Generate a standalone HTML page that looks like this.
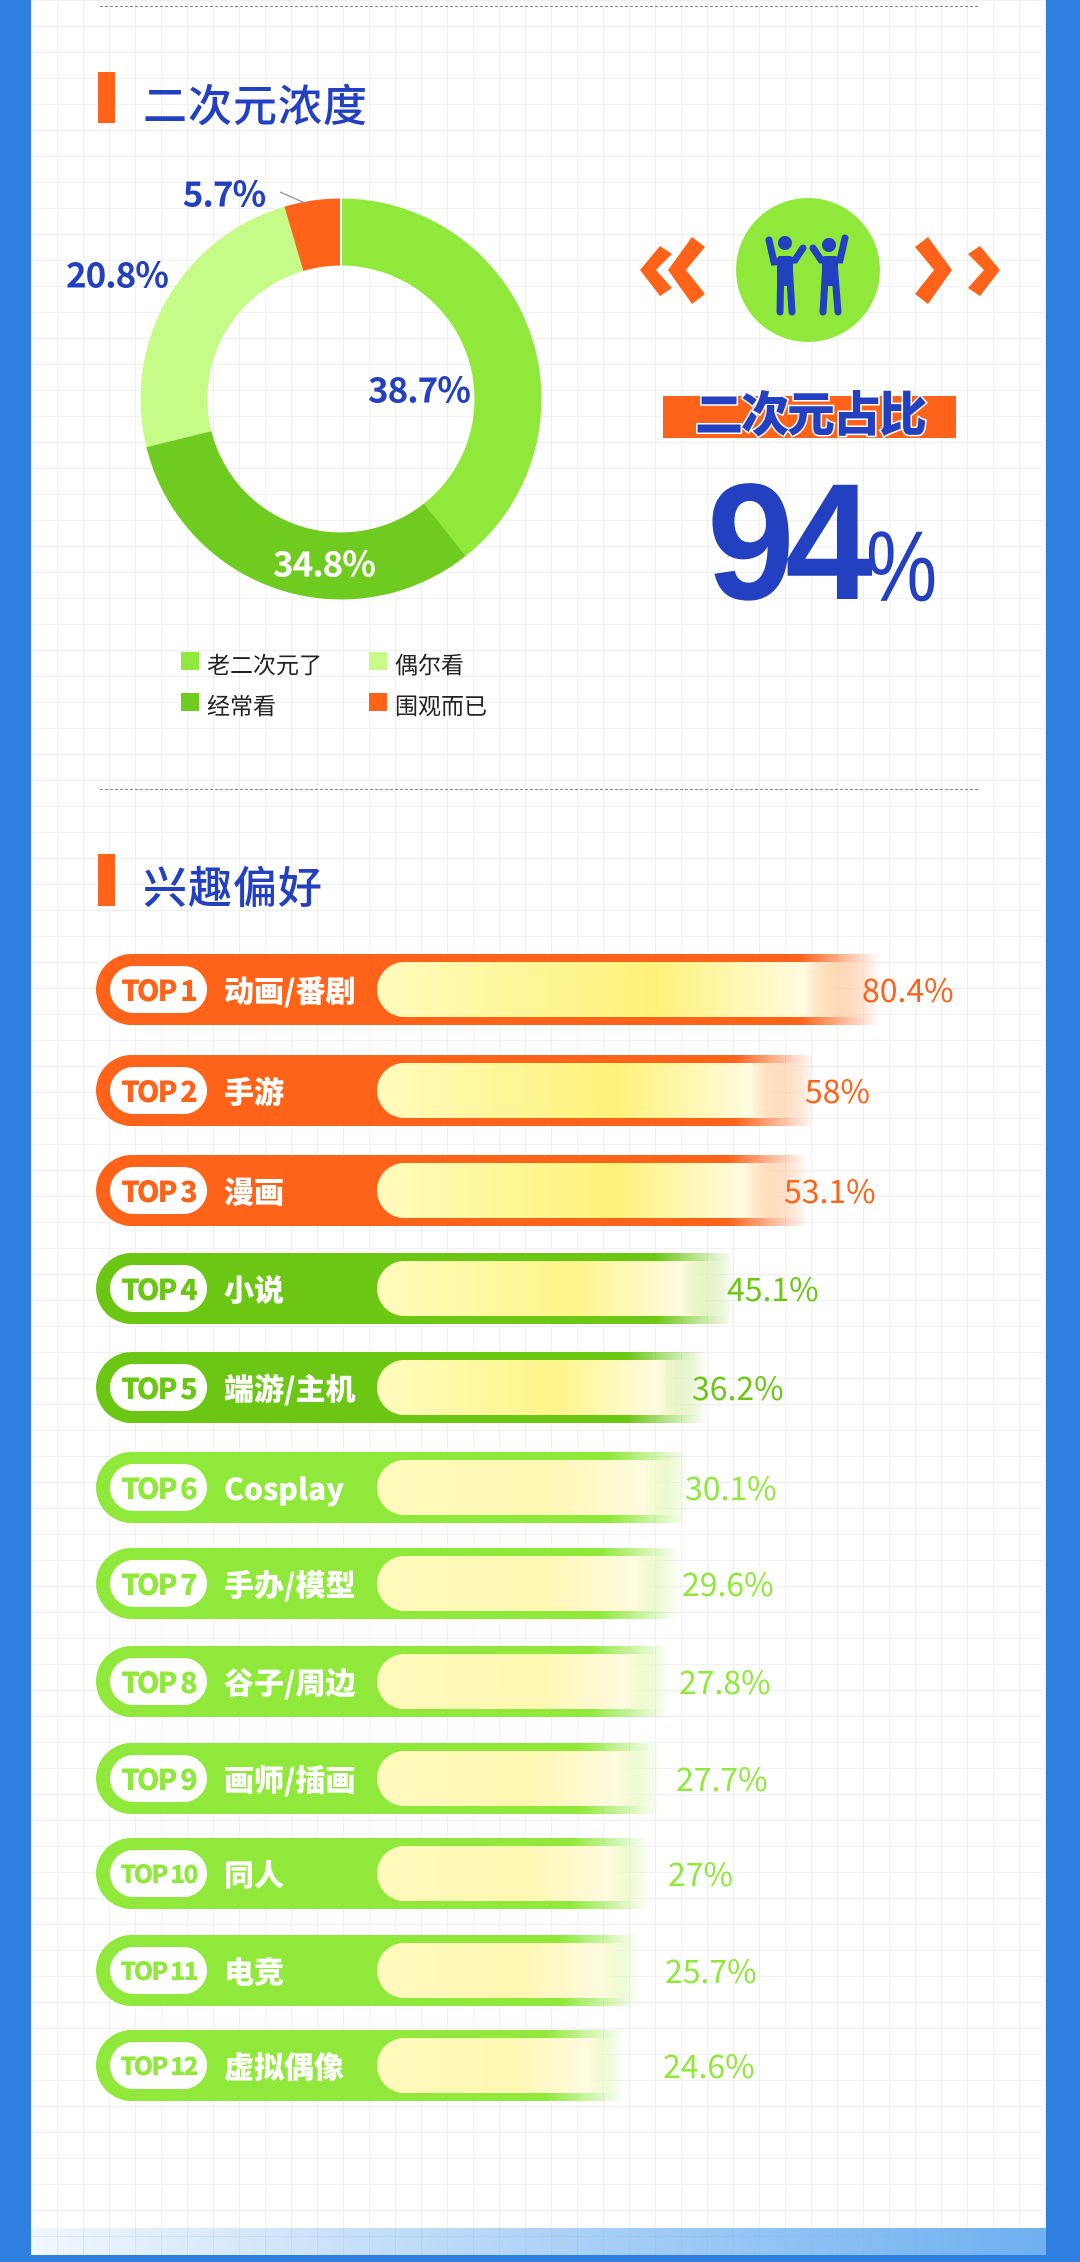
<!DOCTYPE html>
<html><head><meta charset="utf-8"><style>
*{margin:0;padding:0;box-sizing:border-box}
body{width:1080px;height:2262px;position:relative;overflow:hidden;background:#2f7fe0;font-family:"Liberation Sans","Noto Sans CJK SC",sans-serif}
.panel{position:absolute;left:31px;top:0;width:1015px;height:2255px;background-color:#fff;
background-image:linear-gradient(#eef0f5 1px,transparent 1px),linear-gradient(90deg,#eef0f5 1px,transparent 1px);background-size:26px 26px}
.dash{position:absolute;left:100px;width:878px;border-top:1.5px dashed #888}
.tbar{position:absolute;left:98px;width:17px;background:#ff6319}
.title{position:absolute;left:143px;font-size:44px;color:#2340c0;font-family:"Noto Sans CJK SC",sans-serif;font-weight:500;letter-spacing:1px}
.lab{position:absolute;font-family:"Noto Sans CJK SC",sans-serif;font-weight:700;font-size:35px;color:#2340c0;transform:translate(-50%,-50%);letter-spacing:-1px}
.lg{position:absolute;font-family:"Noto Sans CJK SC",sans-serif;font-size:23px;color:#222}
.lg i{position:absolute;left:-26px;top:6px;width:18px;height:18px}
.row{position:absolute;left:96px;height:71px}
.bar{position:absolute;left:0;top:0;height:71px;border-radius:36px 0 0 36px}
.yel{position:absolute;left:281px;top:8px;height:55px;border-radius:28px 0 0 28px}
.badge{position:absolute;left:14px;top:12px;width:97px;height:47px;background:#fff;border-radius:24px;font-family:"Noto Sans CJK SC",sans-serif;font-weight:900;font-size:29px;line-height:47px;text-align:center;letter-spacing:-2px}
.nm{position:absolute;left:128px;top:0;line-height:71px;font-family:"Noto Sans CJK SC",sans-serif;font-weight:900;font-size:30px;color:#fff}
.pc{position:absolute;top:0;line-height:71px;font-family:"Noto Sans CJK SC",sans-serif;font-size:32px}
</style></head><body>
<div class="panel"></div>
<div class="dash" style="top:6px"></div>
<div class="tbar" style="top:72px;height:51px"></div>
<div class="title" style="top:70px">二次元浓度</div>

<svg style="position:absolute;left:0;top:0" width="1080" height="760">
<g transform="translate(341,399) rotate(-90)">
<circle r="167" fill="none" stroke="#90e83a" stroke-width="67" stroke-dasharray="412.4 1049.3"/>
<circle r="167" fill="none" stroke="#6fcb1f" stroke-width="67" stroke-dasharray="333.7 1049.3" stroke-dashoffset="-412.4"/>
<circle r="167" fill="none" stroke="#c6fb88" stroke-width="67" stroke-dasharray="255 1049.3" stroke-dashoffset="-746.1"/>
<circle r="167" fill="none" stroke="#ff6319" stroke-width="67" stroke-dasharray="48.2 1049.3" stroke-dashoffset="-1001.1"/>
</g>
<line x1="341" y1="197" x2="341" y2="266" stroke="#fff" stroke-width="2"/>
<line x1="280" y1="192" x2="305" y2="203" stroke="#999" stroke-width="1.5"/>
<g fill="#ff6319">
<polygon points="640,270 660,246 672,254 656,270 672,288 660,296"/>
<polygon points="668,270 692,237 705,247 686,270 705,294 692,304"/>
<polygon points="952,270 928,237 915,247 934,270 915,294 928,304"/>
<polygon points="1000,270 980,246 968,254 984,270 968,288 980,296"/>
</g>
<circle cx="808" cy="270" r="72" fill="#90e83a"/>
<g stroke="#2340c0" stroke-width="7" stroke-linecap="round" fill="none">
<path d="M769 240 L774 262 L795 260 L803 248"/>
<path d="M781 262 L780 312 M789 262 L792 312"/>
<path d="M845 238 L840 260 L821 260 L813 248"/>
<path d="M826 262 L823 312 M834 262 L838 312"/>
</g>
<g fill="#2340c0"><circle cx="785" cy="243" r="7"/><circle cx="829" cy="245" r="7"/>
<rect x="777" y="256" width="16" height="30" rx="3"/><rect x="822" y="256" width="16" height="30" rx="3"/></g>
<rect x="663" y="396" width="293" height="42" fill="#ff6319"/>
<text x="810" y="418" text-anchor="middle" font-family="Noto Sans CJK SC" font-weight="900" font-size="48" fill="#2340c0" stroke="#fff" stroke-width="3" paint-order="stroke" dominant-baseline="middle" letter-spacing="-2">二次元占比</text>
<text x="707" y="599" font-family="Liberation Sans" font-weight="700" font-size="166" fill="#2340c0" letter-spacing="-10" transform="translate(707 0) scale(0.95 1) translate(-707 0)">94</text>
<text x="866" y="601" font-family="Liberation Sans" font-size="100" fill="#2340c0" transform="translate(866 0) scale(0.8 1) translate(-866 0)">%</text>
</svg>
<div class="lab" style="left:224px;top:192px">5.7%</div>
<div class="lab" style="left:117px;top:273px">20.8%</div>
<div class="lab" style="left:419px;top:388px">38.7%</div>
<div class="lab" style="left:324px;top:562px;color:#fff">34.8%</div>

<div class="lg" style="left:207px;top:646px"><i style="background:#90e83a"></i>老二次元了</div>
<div class="lg" style="left:395px;top:646px"><i style="background:#c6fb88"></i>偶尔看</div>
<div class="lg" style="left:207px;top:687px"><i style="background:#6fcb1f"></i>经常看</div>
<div class="lg" style="left:395px;top:687px"><i style="background:#ff6319"></i>围观而已</div>

<div class="dash" style="top:789px"></div>
<div class="tbar" style="top:854px;height:52px"></div>
<div class="title" style="top:852px">兴趣偏好</div>

<div id="bars"></div>
<script>
var d=[["TOP 1","动画/番剧","80.4%",880,862,"#ff6319","#fff27a"],
["TOP 2","手游","58%",815,805,"#ff6319","#fff27a"],
["TOP 3","漫画","53.1%",808,784,"#ff6319","#fff27a"],
["TOP 4","小说","45.1%",735,727,"#6cc614","#fff58a"],
["TOP 5","端游/主机","36.2%",707,692,"#6cc614","#fff58a"],
["TOP 6","Cosplay","30.1%",690,685,"#8fe83a","#fff7b3"],
["TOP 7","手办/模型","29.6%",680,682,"#8fe83a","#fff7b3"],
["TOP 8","谷子/周边","27.8%",670,679,"#8fe83a","#fff7b3"],
["TOP 9","画师/插画","27.7%",660,676,"#8fe83a","#fff7b3"],
["TOP 10","同人","27%",650,668,"#8fe83a","#fff7b3"],
["TOP 11","电竞","25.7%",640,665,"#8fe83a","#fff7b3"],
["TOP 12","虚拟偶像","24.6%",625,663,"#8fe83a","#fff7b3"]];
var ys=[954,1055,1155,1253,1352,1452,1548,1646,1743,1838,1935,2030];
var h="";
d.forEach(function(r,i){var w=r[3]-96;var f=(w-80)/w*100;
h+='<div class="row" style="top:'+ys[i]+'px;width:1000px">'+
'<div class="bar" style="width:'+w+'px;background:linear-gradient(90deg,'+r[5]+' 0%,'+r[5]+' '+f+'%,rgba(255,255,255,0) 100%)"></div>'+
'<div class="yel" style="width:'+(w-281)+'px;background:linear-gradient(90deg,#fffbbd 0%,'+r[6]+' 55%,#fffbe0 85%,rgba(255,255,255,0) 100%)"></div>'+
'<div class="badge" style="color:'+r[5]+(r[0].length>5?';font-size:25px':'')+'">'+r[0]+'</div>'+
'<div class="nm">'+r[1]+'</div>'+
'<div class="pc" style="left:'+(r[4]-96)+'px;color:'+r[5]+'">'+r[2]+'</div></div>';});
document.getElementById("bars").innerHTML=h;
</script>
<div style="position:absolute;left:31px;top:2228px;width:1015px;height:27px;background:linear-gradient(90deg,rgba(110,176,240,0.1),#6eb0f0);"></div>
</body></html>
